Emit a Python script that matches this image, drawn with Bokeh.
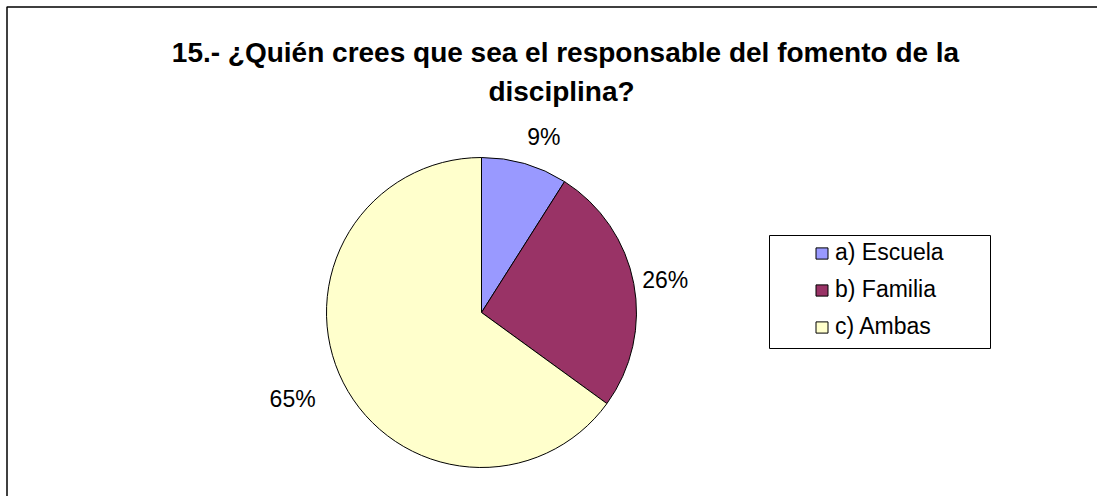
import math
from bokeh.plotting import figure
from bokeh.models import ColumnDataSource, Range1d, Legend, LegendItem, Label, BoxAnnotation
from bokeh.core.properties import value
from bokeh.embed import file_html
from bokeh.resources import INLINE

# ---- data ----
categories = ["a) Escuela", "b) Familia", "c) Ambas"]
percentages = [9, 26, 65]
colors = ["#9999FF", "#993366", "#FFFFCC"]
title_lines = ["15.- ¿Quién crees que sea el responsable del fomento de la", "disciplina?"]

W, H = 1097, 496
FONT = "Liberation Sans"

p = figure(width=W, height=H, x_range=Range1d(0, W), y_range=Range1d(0, H),
           min_border=0, toolbar_location=None, output_backend="svg")
p.axis.visible = False
p.grid.visible = False
p.outline_line_color = None
p.background_fill_color = "white"
p.border_fill_color = "white"

# pie geometry (pixel-like data units)
cx, cy, R = 481, 184, 155
total = sum(percentages)
starts, ends, mids = [], [], []
acc = 0.0
for v in percentages:
    a0 = math.pi / 2 - 2 * math.pi * acc / total
    acc += v
    a1 = math.pi / 2 - 2 * math.pi * acc / total
    starts.append(a0)
    ends.append(a1)
    mids.append((a0 + a1) / 2)

src = ColumnDataSource(dict(cat=categories, val=percentages, color=colors,
                            start=starts, end=ends,
                            x=[cx] * 3, y=[cy] * 3))
r = p.wedge(x="x", y="y", radius=R, radius_units="screen",
            start_angle="start", end_angle="end", direction="clock",
            fill_color="color", line_color="black", line_width=1, source=src)

# percentage labels
label_r = [188, 186, 212]
label_dx = [10, 1, 0]
label_dy = [5, 2, -10]
lx = [cx + rr * math.cos(m) for rr, m in zip(label_r, mids)]
ly = [cy + rr * math.sin(m) for rr, m in zip(label_r, mids)]
lsrc = ColumnDataSource(dict(x=lx, y=ly, dx=label_dx, dy=label_dy,
                             t=[f"{v}%" for v in percentages]))
p.text(x="x", y="y", text="t", source=lsrc, x_offset="dx", y_offset="dy",
       text_align="center", text_baseline="middle",
       text_font=value(FONT), text_font_size="23px", text_color="black")

# title
p.add_layout(Label(x=565, y=444, text=title_lines[0], text_align="center",
                   text_baseline="alphabetic", text_font=FONT, text_font_size="28px",
                   text_font_style="bold", text_color="black"))
p.add_layout(Label(x=561, y=405, text=title_lines[1], text_align="center",
                   text_baseline="alphabetic", text_font=FONT, text_font_size="28px",
                   text_font_style="bold", text_color="black"))

# legend
items = [LegendItem(label=c, renderers=[r], index=i) for i, c in enumerate(categories)]
legend = Legend(items=items, location=(814, 156), padding=0, margin=0, spacing=10,
                glyph_width=15, glyph_height=14, label_height=26, label_standoff=6,
                label_text_font=FONT, label_text_font_size="23px", label_text_color="black",
                border_line_color=None, background_fill_alpha=0)
p.add_layout(legend, "center")
p.add_layout(BoxAnnotation(left=769, right=990, bottom=148, top=261,
                           fill_alpha=0, line_color="black", line_alpha=1, line_width=1))

# chart-area border (left and top visible)
p.line(x=[6.5, 6.5, W], y=[0, H - 6.5, H - 6.5], line_color="black", line_width=1.5)

open("out.html", "w").write(file_html(p, INLINE))
